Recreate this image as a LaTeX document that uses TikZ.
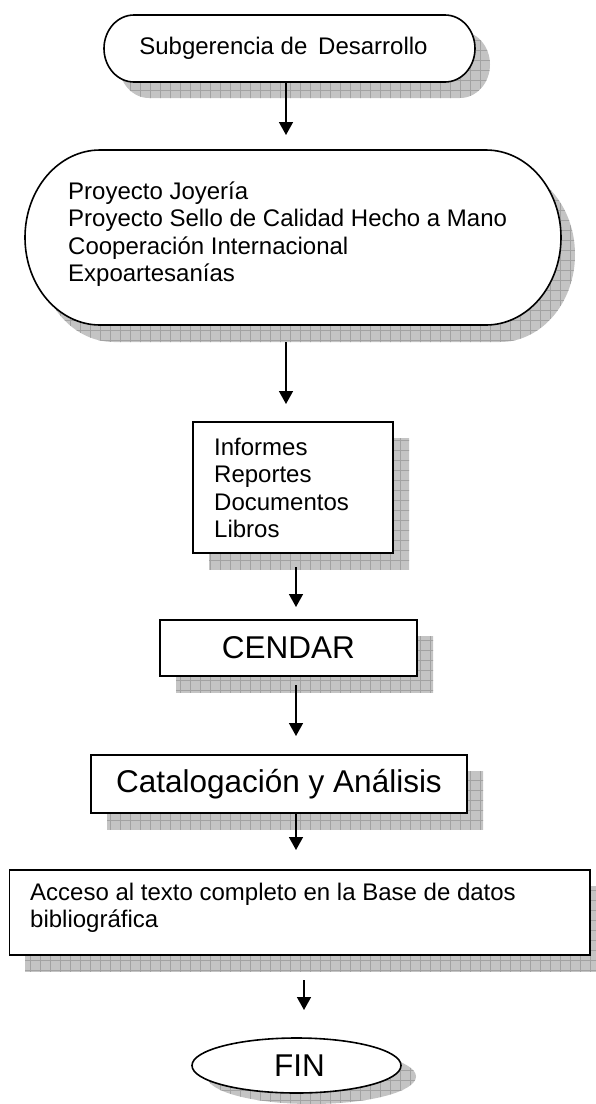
\documentclass[tikz,border=0pt]{standalone}
\usepackage{fontspec}
\setmainfont{Liberation Sans}
\usetikzlibrary{arrows.meta,calc,shapes.geometric}
\definecolor{shd}{HTML}{C4C4C4}
\definecolor{shdl}{HTML}{A2A2A2}
% stadium path: left, top, right, bottom, rx, ry
\newcommand\stad[6]{(#1+#5,#2) -- (#3-#5,#2) arc[start angle=90,end angle=-90,x radius=#5pt,y radius=#6pt] -- (#1+#5,#4) arc[start angle=270,end angle=90,x radius=#5pt,y radius=#6pt] -- cycle}
\newcommand\shadowarea[1]{%
  \begin{scope}
    \clip #1;
    \fill[shd] (0,0) rectangle (600,1110);
    \foreach \i in {0,10,...,600}{\draw[shdl] (\i,0) -- (\i,1110);}
    \foreach \j in {0,10,...,1110}{\draw[shdl] (0,\j) -- (600,\j);}
  \end{scope}}
\tikzset{
  outline/.style={draw=black, line width=1.6pt, fill=white},
  box/.style={draw=black, line width=1.6pt, fill=white, inner sep=0pt, outer sep=0pt},
  holder/.style={inner sep=0pt, outer sep=0pt},
  shdl/.style={draw=shdl, line width=0.7pt},
  txt/.style={font=\fontsize{24}{27.3}\selectfont, inner sep=0pt, align=left},
  bigtxt/.style={font=\fontsize{31.5}{36}\selectfont, inner sep=0pt},
  arr/.style={line width=1.5pt, -{Triangle[length=13pt,width=14pt]}}
}
\begin{document}
\begin{tikzpicture}[x=1pt,y=-1pt]
\useasboundingbox (0,0) rectangle (596,1104);
% ---- shadows
\shadowarea{\stad{119}{31}{490}{98}{30}{33.5}}
\shadowarea{\stad{39}{167}{575}{342}{75}{87.5}}
\shadowarea{(209,438) rectangle (409,569)}
\shadowarea{(176,636) rectangle (433,692)}
\shadowarea{(107,771) rectangle (483,829)}
\shadowarea{(25,886) rectangle (606,971)}
\shadowarea{(311.5,1076.5) ellipse [x radius=104.5pt, y radius=27.5pt]}
% ---- shapes
\path[outline] \stad{104}{15}{475}{82}{30}{33.5};
\path[outline] \stad{25}{150}{561}{325}{75}{87.5};
\node[holder, minimum width=371, minimum height=67] (s1) at (289.5,48.5) {};
\node[holder, minimum width=536, minimum height=175] (s2) at (293,237.5) {};
\node[box, minimum width=200, minimum height=131] (b3) at (293,487.5) {};
\node[box, minimum width=257, minimum height=56] (b4) at (288.5,648) {};
\node[box, minimum width=376, minimum height=58] (b5) at (279,784) {};
\node[box, minimum width=580.5, minimum height=85] (b6) at (299.75,912.5) {};
\node[box, ellipse, minimum width=209, minimum height=55] (e7) at (296.5,1065.5) {};
% ---- connectors
\draw[arr] ($(s1.south)+(-3.5,0)$) -- ($(s2.north)+(-7,-15)$);
\draw[arr] ($(s2.south)+(-7,17)$) -- ($(b3.north)+(-7,-18)$);
\draw[arr] ($(b3.south)+(3,14)$) -- ($(b4.north)+(7.5,-13)$);
\draw[arr] ($(b4.south)+(7.5,9)$) -- ($(b5.north)+(17,-19)$);
\draw[arr] ($(b5.south)+(17,0)$) -- ($(b6.north)+(-3.75,-20)$);
\draw[arr] ($(b6.south)+(4.25,25)$) -- ($(e7.north)+(7.5,-28)$);
% ---- texts
\node[txt] (t1) at (283.5,48.5) {Subgerencia de\hspace{0.45em}Desarrollo};
\node[txt, anchor=west] (t2) at (68,234) {Proyecto Joyería\\Proyecto Sello de Calidad Hecho a Mano\\Cooperación Internacional\\Expoartesanías};
\node[txt, anchor=west] (t3) at (214,488) {Informes\\Reportes\\Documentos\\Libros};
\node[bigtxt] (t4) at (b4.center) {CENDAR};
\node[bigtxt] (t5) at (b5.center) {Catalogación y Análisis};
\node[txt, anchor=west] (t6) at (30,908) {Acceso al texto completo en la Base de datos\\bibliográfica};
\node[bigtxt] (t7) at ($(e7.center)+(3,0)$) {FIN};
\end{tikzpicture}
\end{document}
